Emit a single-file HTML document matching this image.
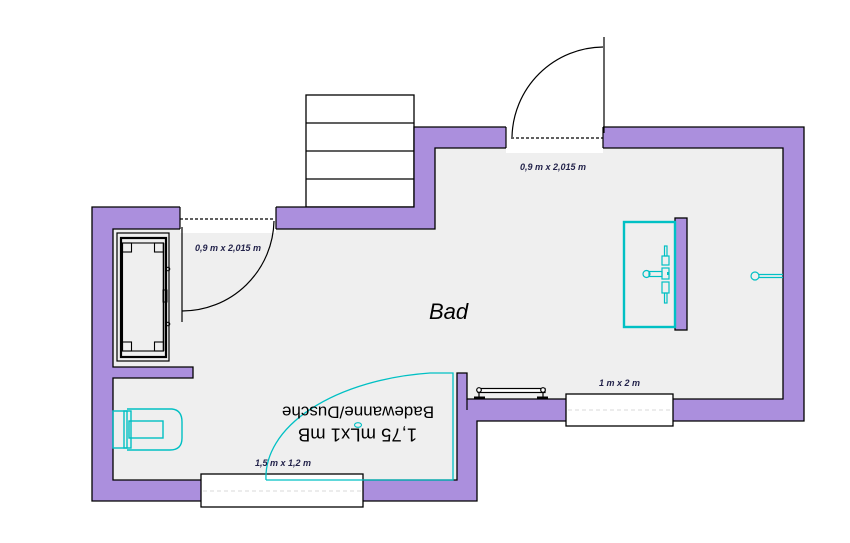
<!DOCTYPE html>
<html><head><meta charset="utf-8"><style>
html,body{margin:0;padding:0;background:#fff;}
svg{display:block;}
text{font-family:"Liberation Sans",Arial,sans-serif;}
.lbl{font-size:9px;font-weight:bold;font-style:italic;fill:#22224a;}
</style></head><body>
<svg width="850" height="543" viewBox="0 0 850 543" xmlns="http://www.w3.org/2000/svg">
<rect x="0" y="0" width="850" height="543" fill="#fff"/>
<!-- stairs -->
<g fill="#fff" stroke="#000" stroke-width="1.3">
<rect x="306" y="95" width="108" height="112"/>
<line x1="306" y1="123" x2="414" y2="123"/>
<line x1="306" y1="151" x2="414" y2="151"/>
<line x1="306" y1="179" x2="414" y2="179"/>
</g>
<!-- walls -->
<polygon points="92,207 414,207 414,127 804,127 804,421 477,421 477,501 92,501" fill="#ab8fdd" stroke="#000" stroke-width="1.3"/>
<polygon points="113,229 435,229 435,148 783,148 783,399 467,399 467,373 457,373 457,480 113,480 113,378 193,378 193,367 113,367" fill="#efefef" stroke="#000" stroke-width="1.3"/>
<line x1="467" y1="399" x2="467" y2="410" stroke="#000" stroke-width="1.2"/>
<!-- door gaps -->
<rect x="180" y="206" width="96" height="27" fill="#fff"/>
<rect x="506" y="126" width="97" height="27" fill="#fff"/>
<line x1="180" y1="207" x2="180" y2="229" stroke="#000" stroke-width="1.2"/>
<line x1="276" y1="207" x2="276" y2="229" stroke="#000" stroke-width="1.2"/>
<line x1="506" y1="127" x2="506" y2="148" stroke="#000" stroke-width="1.2"/>
<line x1="603" y1="127" x2="603" y2="148" stroke="#000" stroke-width="1.2"/>
<!-- door 1 -->
<g fill="none" stroke="#000" stroke-width="1.2">
<line x1="180" y1="219" x2="275" y2="219" stroke-dasharray="3,2"/>
<line x1="182" y1="227" x2="182" y2="322"/>
<path d="M182,311 A92,92 0 0 0 274,221"/>
</g>
<!-- door 2 -->
<g fill="none" stroke="#000" stroke-width="1.2">
<line x1="511" y1="138" x2="603" y2="138" stroke-dasharray="3,2"/>
<line x1="604" y1="37" x2="604" y2="133"/>
<path d="M512,137 A92,92 0 0 1 603,47"/>
</g>
<!-- windows -->
<rect x="201" y="474" width="162" height="33" fill="#fff" stroke="#000" stroke-width="1.3"/>
<line x1="203" y1="491" x2="361" y2="491" stroke="#d8d8d8" stroke-width="1" stroke-dasharray="4,3"/>
<rect x="566" y="394" width="107" height="32" fill="#fff" stroke="#000" stroke-width="1.3"/>
<line x1="568" y1="410" x2="671" y2="410" stroke="#d8d8d8" stroke-width="1" stroke-dasharray="4,3"/>
<!-- bathtub -->
<g fill="none" stroke="#000">
<rect x="117" y="233" width="52" height="128" stroke-width="1.2"/>
<rect x="121" y="238" width="45" height="119" stroke-width="2.2"/>
<rect x="122.5" y="243" width="41" height="108" stroke-width="1.1"/>
<rect x="122.5" y="243" width="9" height="9" stroke-width="1.1"/>
<rect x="154.5" y="243" width="9" height="9" stroke-width="1.1"/>
<rect x="122.5" y="342" width="9" height="9" stroke-width="1.1"/>
<rect x="154.5" y="342" width="9" height="9" stroke-width="1.1"/>
<line x1="163.5" y1="243" x2="163.5" y2="351" stroke-width="1.5"/>
<circle cx="168" cy="269" r="1.8" stroke-width="1"/>
<circle cx="168" cy="324" r="1.8" stroke-width="1"/>
<rect x="163" y="290" width="4" height="12" stroke-width="1"/>
</g>
<!-- toilet -->
<g fill="none" stroke="#00c0c4" stroke-width="1.4">
<rect x="113" y="411" width="14" height="37"/>
<rect x="124" y="411" width="7" height="37"/>
<path d="M127,409 L172,409 Q182,410 182,422 L182,438 Q182,450 170,450 L127,450"/>
<rect x="129" y="421" width="34" height="17"/>
</g>
<!-- radiator -->
<g fill="#fff" stroke="#000" stroke-width="1.2">
<rect x="478" y="388.5" width="67" height="4"/>
<circle cx="479" cy="390" r="2.3"/>
<circle cx="543" cy="390" r="2.3"/>
<line x1="479" y1="392" x2="479" y2="398"/>
<line x1="543" y1="392" x2="543" y2="398"/>
</g>
<rect x="474" y="396.5" width="11" height="2.5" fill="#000"/>
<rect x="537" y="396.5" width="11" height="2.5" fill="#000"/>
<!-- sink -->
<rect x="675" y="218" width="12" height="112" fill="#ab8fdd" stroke="#000" stroke-width="1.3"/>
<rect x="624" y="222" width="51" height="105" fill="none" stroke="#00c0c4" stroke-width="2.4"/>
<g fill="none" stroke="#00c0c4" stroke-width="1.2">
<rect x="664.5" y="246" width="2.5" height="10"/>
<rect x="662" y="256" width="7" height="9"/>
<rect x="662" y="268" width="7" height="11"/>
<rect x="662" y="282" width="7" height="11"/>
<rect x="664.5" y="293" width="2.5" height="10"/>
<rect x="649" y="271.5" width="13" height="5"/>
<circle cx="646.5" cy="274" r="3.5"/>
</g>
<rect x="667" y="272" width="2" height="3" fill="#00c0c4"/>
<!-- shower head -->
<g fill="none" stroke="#00c0c4" stroke-width="1.2">
<circle cx="755" cy="276" r="4"/>
<line x1="759" y1="274.5" x2="783" y2="274.5"/>
<line x1="759" y1="277.5" x2="783" y2="277.5"/>
</g>
<!-- shower area -->
<path d="M266,480 L453,480 L453,373 L430,373 A187,105 0 0 0 266,480" fill="none" stroke="#00c0c4" stroke-width="1.3"/>
<ellipse cx="358" cy="425" rx="3.5" ry="2.3" fill="none" stroke="#00c0c4" stroke-width="1.1"/>
<!-- texts -->
<text x="429" y="319" font-size="22" font-style="italic" fill="#000">Bad</text>
<text x="358" y="418.5" font-size="17" text-anchor="middle" fill="#000" transform="rotate(180 358 412.5)">Badewanne/Dusche</text>
<text x="357.5" y="441.5" font-size="18.5" text-anchor="middle" fill="#000" transform="rotate(180 357.5 435)">1,75 mLx1 mB</text>
<text class="lbl" x="195" y="251">0,9 m x 2,015 m</text>
<text class="lbl" x="520" y="170">0,9 m x 2,015 m</text>
<text class="lbl" x="599" y="386">1 m x 2 m</text>
<text class="lbl" x="255" y="466">1,5 m x 1,2 m</text>
</svg>
</body></html>
